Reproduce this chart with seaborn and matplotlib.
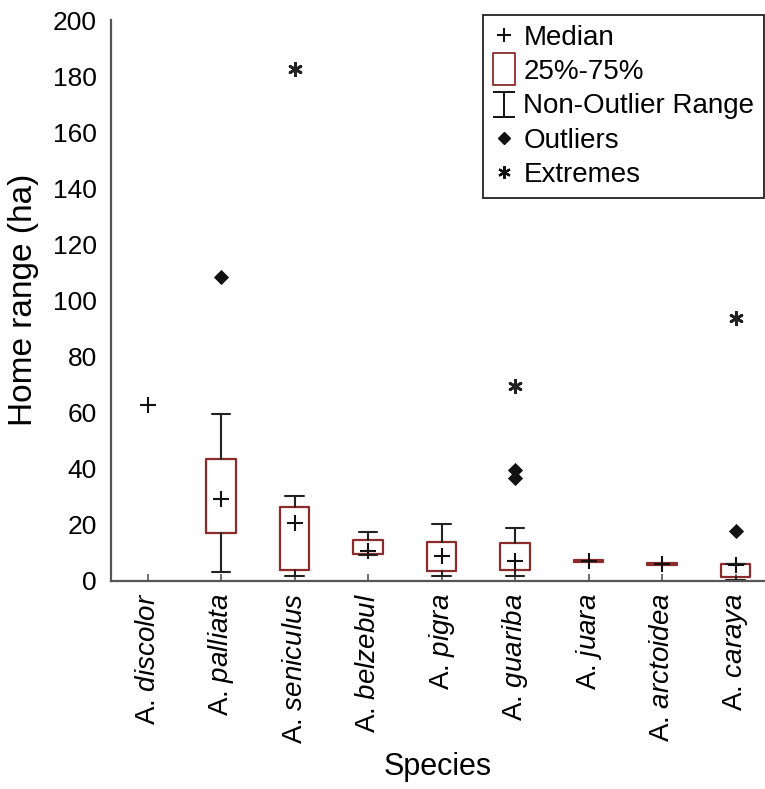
import matplotlib
matplotlib.use("Agg")
import matplotlib.pyplot as plt
from matplotlib.lines import Line2D
from matplotlib.path import Path
import seaborn as sns
import pandas as pd

# values (ha)
species = ["discolor", "palliata", "seniculus", "belzebul", "pigra",
           "guariba", "juara", "arctoidea", "caraya"]
medians = [62.5, 29.2, 20.6, 10.6, 8.8, 7.0, 7.0, 6.0, 5.4]
q1 = [None, 17.1, 3.7, 9.4, 3.3, 3.8, 6.6, 5.5, 1.4]
q3 = [None, 43.3, 26.2, 14.4, 13.8, 13.3, 7.3, 6.4, 5.9]
whisker_low = [None, 3.1, 1.6, 9.2, 1.6, 1.6, 6.6, 5.5, 0.2]
whisker_high = [None, 59.5, 30.0, 17.4, 20.1, 18.7, 7.3, 6.4, 5.9]
outlier_species = ["palliata", "guariba", "guariba", "caraya"]
outlier_values = [108.2, 39.5, 36.5, 17.7]
extreme_species = ["seniculus", "guariba", "caraya"]
extreme_values = [182.5, 69.5, 93.6]

box_red = "#8b2b2b"
axis_grey = "#555555"

sns.set_style("ticks")
plt.rcParams["font.family"] = ["Liberation Sans", "DejaVu Sans"]
plt.rcParams["mathtext.fontset"] = "custom"
plt.rcParams["mathtext.rm"] = "Liberation Sans"
plt.rcParams["mathtext.it"] = "Liberation Sans:italic"
for key in ("text.color", "axes.labelcolor", "xtick.labelcolor", "ytick.labelcolor"):
    plt.rcParams[key] = "black"

fig = plt.figure(figsize=(7.65, 7.89), dpi=100)
ax = fig.add_axes([110.85 / 765, 208.5 / 789, (765 - 110.85) / 765, 560.5 / 789])

# boxes and whiskers (discolor has a single value, so no box)
stats = []
positions = []
caps = []
for i, name in enumerate(species):
    if q1[i] is None:
        continue
    stats.append(dict(med=medians[i], q1=q1[i], q3=q3[i],
                      whislo=whisker_low[i], whishi=whisker_high[i], fliers=[]))
    positions.append(i)
    caps.append(0.0 if name in ("juara", "arctoidea") else 0.25)

ax.bxp(stats, positions=positions, widths=0.4, capwidths=caps,
       showfliers=False, manage_ticks=False,
       boxprops=dict(color=box_red, linewidth=1.6),
       whiskerprops=dict(color="#222222", linewidth=1.5),
       capprops=dict(color="#222222", linewidth=1.5),
       medianprops=dict(linewidth=0))

med_df = pd.DataFrame({"x": range(len(species)), "y": medians})
out_df = pd.DataFrame({"x": [species.index(s) for s in outlier_species], "y": outlier_values})
ext_df = pd.DataFrame({"x": [species.index(s) for s in extreme_species], "y": extreme_values})

sns.scatterplot(data=med_df, x="x", y="y", marker="+", color="#111111",
                s=140, linewidth=1.5, ax=ax, zorder=4)
sns.scatterplot(data=out_df, x="x", y="y", marker="D", color="#111111",
                s=60, linewidth=0, ax=ax, zorder=4)
sns.scatterplot(data=ext_df, x="x", y="y", marker=(6, 2, 0), color="#222222",
                s=80, linewidth=2.0, ax=ax, zorder=4)

ax.set_xlim(-0.5, 8.4)
ax.set_ylim(0, 200)
ax.set_yticks(range(0, 201, 20))
ax.set_xticks(range(len(species)))
ax.set_xticklabels(["A. $\\mathit{" + s + "}$" for s in species], rotation=90)
ax.tick_params(axis="x", direction="in", length=5, width=1.2, color=axis_grey,
               labelsize=20, pad=9)
ax.tick_params(axis="y", length=0, labelsize=19, pad=10)
ax.set_xlabel("Species", fontsize=22, labelpad=6)
ax.set_ylabel("Home range (ha)", fontsize=24, labelpad=10)
sns.despine(ax=ax)
for side in ("left", "bottom"):
    ax.spines[side].set_color(axis_grey)
    ax.spines[side].set_linewidth(1.6)

# legend with hand-made symbols
rect_path = Path([(-0.35, -0.5), (0.35, -0.5), (0.35, 0.5), (-0.35, 0.5), (-0.35, -0.5)],
                 [Path.MOVETO, Path.LINETO, Path.LINETO, Path.LINETO, Path.CLOSEPOLY])
whisk_path = Path([(-0.45, 0.5), (0.45, 0.5), (0, 0.5), (0, -0.5), (-0.45, -0.5), (0.45, -0.5)],
                  [Path.MOVETO, Path.LINETO, Path.MOVETO, Path.LINETO, Path.MOVETO, Path.LINETO])
handles = [
    Line2D([], [], ls="none", marker="+", color="#111111", markersize=10, mew=1.5),
    Line2D([], [], ls="none", marker=rect_path, markerfacecolor="white",
           markeredgecolor=box_red, markersize=23, mew=1.3),
    Line2D([], [], ls="none", marker=whisk_path, color="#111111", markersize=18, mew=1.4),
    Line2D([], [], ls="none", marker="D", color="#111111", markersize=6.5),
    Line2D([], [], ls="none", marker=(6, 2, 0), color="#111111", markersize=9, mew=1.6),
]
labels = ["Median", "25%-75%", "Non-Outlier Range", "Outliers", "Extremes"]
leg = fig.legend(handles, labels, loc="upper left",
                 bbox_to_anchor=(483 / 765, 1 - 15 / 789), bbox_transform=fig.transFigure,
                 borderaxespad=0, fontsize=20, handlelength=0.8, handletextpad=0.3,
                 labelspacing=0.3, borderpad=0.35, fancybox=False, framealpha=1)
leg.get_frame().set_edgecolor("#222222")
leg.get_frame().set_linewidth(1.3)

fig.savefig("out.png", dpi=100)
